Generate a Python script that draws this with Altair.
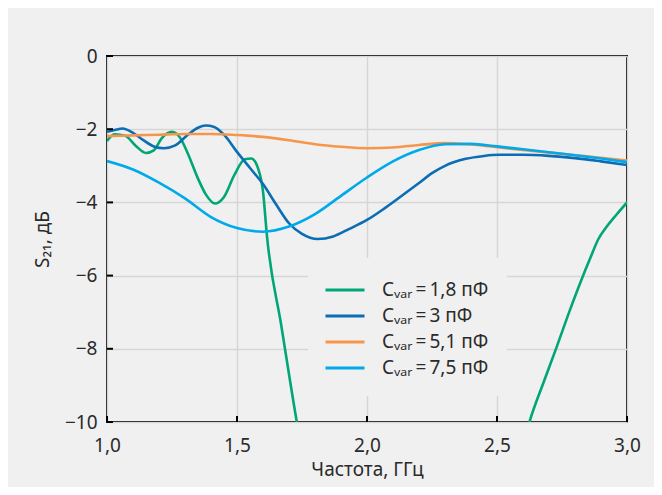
import altair as alt
import pandas as pd

# ---- data ----
TS = "\u2009"
series_names = [f"Cᵥₐᵣ{TS}={TS}1,8 пФ", f"Cᵥₐᵣ{TS}={TS}3 пФ",
                f"Cᵥₐᵣ{TS}={TS}5,1 пФ", f"Cᵥₐᵣ{TS}={TS}7,5 пФ"]
series_colors = ["#00a676", "#0a6db5", "#f7964a", "#00a9ea"]

f_18 = [1.0, 1.03, 1.07, 1.11, 1.15, 1.18, 1.21, 1.25, 1.28, 1.31, 1.35, 1.38, 1.415,
        1.45, 1.49, 1.53, 1.555, 1.58, 1.60, 1.615, 1.67, 1.73, 1.76,
        2.58, 2.627, 2.68, 2.73, 2.78, 2.82, 2.86, 2.89, 2.92, 2.96, 3.0]
v_18 = [-2.32, -2.14, -2.18, -2.45, -2.65, -2.58, -2.25, -2.07, -2.22, -2.65, -3.35, -3.78, -4.03,
        -3.85, -3.25, -2.82, -2.80, -3.05, -3.70, -4.90, -7.35, -10.0, -11.2,
        -11.2, -9.95, -8.9, -7.94, -6.95, -6.2, -5.5, -5.0, -4.68, -4.33, -4.0]

f_3 = [1.0, 1.03, 1.06, 1.10, 1.14, 1.18, 1.22, 1.26, 1.31, 1.35, 1.38, 1.41, 1.45, 1.5,
       1.55, 1.6, 1.65, 1.7, 1.75, 1.81, 1.87, 1.93, 2.0, 2.07, 2.13, 2.2, 2.25, 2.3,
       2.38, 2.45, 2.51, 2.6, 2.7, 2.8, 2.9, 3.0]
v_3 = [-2.07, -2.02, -1.98, -2.10, -2.30, -2.47, -2.52, -2.45, -2.16, -1.96, -1.90, -1.93, -2.15, -2.62,
       -3.06, -3.50, -4.05, -4.57, -4.86, -5.0, -4.93, -4.73, -4.48, -4.15, -3.84, -3.47, -3.20, -3.0,
       -2.81, -2.73, -2.70, -2.70, -2.73, -2.79, -2.88, -2.98]

f_51 = [1.0, 1.1, 1.2, 1.3, 1.4, 1.5, 1.6, 1.7, 1.8, 1.9, 2.0, 2.1, 2.2, 2.3, 2.4,
        2.5, 2.6, 2.7, 2.8, 2.9, 3.0]
v_51 = [-2.19, -2.17, -2.15, -2.13, -2.13, -2.16, -2.21, -2.30, -2.41, -2.48, -2.52, -2.50,
        -2.43, -2.38, -2.42, -2.49, -2.57, -2.64, -2.71, -2.78, -2.86]

f_75 = [1.0, 1.1, 1.2, 1.3, 1.4, 1.5, 1.6, 1.7, 1.8, 1.9, 2.0, 2.1, 2.2, 2.3, 2.4,
        2.5, 2.6, 2.7, 2.8, 2.9, 3.0]
v_75 = [-2.87, -3.10, -3.46, -3.89, -4.40, -4.70, -4.80, -4.66, -4.32, -3.82, -3.32, -2.88,
        -2.57, -2.41, -2.40, -2.47, -2.55, -2.63, -2.71, -2.80, -2.90]

x_ticks = [1.0, 1.5, 2.0, 2.5, 3.0]
y_ticks = [0, -2, -4, -6, -8, -10]

# ---- build table ----
rows = []
for name, fs, vs in zip(series_names, [f_18, f_3, f_51, f_75], [v_18, v_3, v_51, v_75]):
    for f, v in zip(fs, vs):
        rows.append({"f": f, "v": v, "series": name})
df = pd.DataFrame(rows)

W, H = 520, 366
FONT = "Noto Sans"
TXT = "#2a2a2a"
FS = 19

xscale = alt.Scale(domain=[1.0, 3.0], nice=False, zero=False)
yscale = alt.Scale(domain=[-10, 0], nice=False, zero=False)

lines = alt.Chart(df).mark_line(clip=True, strokeWidth=2.6, interpolate="monotone").encode(
    x=alt.X("f:Q", scale=xscale,
            axis=alt.Axis(values=x_ticks, title="Частота, ГГц", labelFlush=False,
                          labelExpr="replace(format(datum.value, '.1f'), '.', ',')",
                          labelPadding=14, titlePadding=5)),
    y=alt.Y("v:Q", scale=yscale,
            axis=alt.Axis(values=y_ticks, title="S₂₁, дБ", labelFlush=False,
                          labelPadding=10, titlePadding=12)),
    color=alt.Color("series:N",
                    scale=alt.Scale(domain=series_names, range=series_colors),
                    sort=series_names,
                    legend=alt.Legend(title=None, orient="none", legendX=201, legendY=202,
                                      fillColor="#f0f0f0", padding=18, rowPadding=2,
                                      symbolType="M-1.16,0H1.96", symbolSize=625,
                                      symbolStrokeWidth=3, labelFontSize=FS, labelOffset=28,
                                      labelFont=FONT, labelColor=TXT)),
    order=alt.Order("f:Q"),
)

xt = pd.DataFrame({"t": x_ticks})
yt = pd.DataFrame({"t": y_ticks})
xticks = alt.Chart(xt).mark_rule(color="black", strokeWidth=2).encode(
    x=alt.X("t:Q", scale=xscale), y=alt.value(H), y2=alt.value(H - 6))
yticks = alt.Chart(yt).mark_rule(color="black", strokeWidth=2).encode(
    y=alt.Y("t:Q", scale=yscale), x=alt.value(0), x2=alt.value(6))

chart = alt.layer(lines, xticks, yticks).properties(
    width=W, height=H,
    autosize=alt.AutoSizeParams(type="none"),
    padding={"left": 99, "top": 48, "right": 27, "bottom": 65},
    background="#f0f0f0",
).configure_view(stroke="black", strokeWidth=2).configure_axis(
    domain=False, ticks=False, grid=True, gridColor="#d6d6d6", gridWidth=1.5,
    labelFont=FONT, labelFontSize=FS, labelColor=TXT,
    titleFont=FONT, titleFontSize=FS, titleFontWeight="normal", titleColor=TXT,
)

chart.save("out.html", embed_options={"renderer": "svg", "actions": False})
